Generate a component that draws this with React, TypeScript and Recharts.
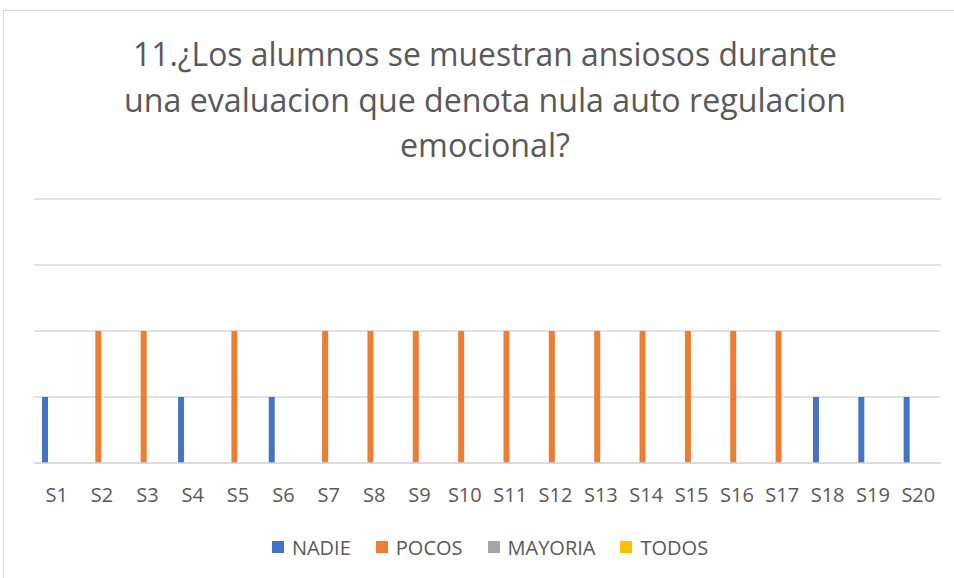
import React from 'react';
import {
  BarChart,
  Bar,
  XAxis,
  YAxis,
  CartesianGrid,
  Legend,
} from 'recharts';

const categories = [
  'S1', 'S2', 'S3', 'S4', 'S5', 'S6', 'S7', 'S8', 'S9', 'S10',
  'S11', 'S12', 'S13', 'S14', 'S15', 'S16', 'S17', 'S18', 'S19', 'S20',
];

const nadie = [1, 0, 0, 1, 0, 1, 0, 0, 0, 0, 0, 0, 0, 0, 0, 0, 0, 1, 1, 1];
const pocos = [0, 2, 2, 0, 2, 0, 2, 2, 2, 2, 2, 2, 2, 2, 2, 2, 2, 0, 0, 0];
const mayoria = [0, 0, 0, 0, 0, 0, 0, 0, 0, 0, 0, 0, 0, 0, 0, 0, 0, 0, 0, 0];
const todos = [0, 0, 0, 0, 0, 0, 0, 0, 0, 0, 0, 0, 0, 0, 0, 0, 0, 0, 0, 0];

const yTicks = [0, 1, 2, 3, 4];

const titleLines = [
  '11.¿Los alumnos se muestran ansiosos durante',
  'una evaluacion que denota nula auto regulacion',
  'emocional?',
];

const series = [
  { key: 'NADIE', color: '#4472C4' },
  { key: 'POCOS', color: '#ED7D31' },
  { key: 'MAYORIA', color: '#A5A5A5' },
  { key: 'TODOS', color: '#FFC000' },
];

const data = categories.map((name, i) => ({
  name,
  NADIE: nadie[i],
  POCOS: pocos[i],
  MAYORIA: mayoria[i],
  TODOS: todos[i],
}));

const FONT = '"Open Sans", sans-serif';
const TEXT = '#595959';
const GRID = '#D9D9D9';

const titleWidths = [704, 722, 170];

function LegendBox() {
  return (
    <div
      style={{
        display: 'flex',
        justifyContent: 'center',
        alignItems: 'center',
        gap: 25,
        height: 30,
        fontFamily: FONT,
        fontSize: 20,
        color: TEXT,
        paddingLeft: 26,
      }}
    >
      {series.map((s) => (
        <div key={s.key} style={{ display: 'flex', alignItems: 'center' }}>
          <span style={{ width: 12, height: 12, background: s.color, marginRight: 8 }} />
          <span>{s.key}</span>
        </div>
      ))}
    </div>
  );
}

export default function App() {
  return (
    <div
      style={{
        position: 'absolute',
        left: 0,
        top: 0,
        width: 954,
        height: 578,
        overflow: 'hidden',
        background: '#fff',
      }}
    >
      <div
        style={{
          position: 'absolute',
          left: 3,
          top: 10,
          width: 1000,
          height: 1000,
          border: `1px solid ${GRID}`,
        }}
      />
      <svg
        width={954}
        height={180}
        style={{ position: 'absolute', left: 0, top: 0 }}
      >
        {titleLines.map((line, i) => (
          <text
            key={i}
            x={485}
            y={66 + i * 45.5}
            textAnchor="middle"
            fontFamily={FONT}
            fontSize={32}
            fill={TEXT}
            textLength={titleWidths[i]}
            lengthAdjust="spacingAndGlyphs"
          >
            {line}
          </text>
        ))}
      </svg>
      <div style={{ position: 'absolute', left: 0, top: 0 }}>
        <BarChart
          width={954}
          height={578}
          data={data}
          margin={{ top: 199, right: 13, left: 34, bottom: 45 }}
          barSize={6}
          barGap={2}
        >
          <CartesianGrid vertical={false} stroke={GRID} strokeWidth={1.3} />
          <XAxis
            dataKey="name"
            interval={0}
            tickLine={false}
            tickSize={0}
            tickMargin={25}
            height={40}
            axisLine={{ stroke: GRID, strokeWidth: 1.3 }}
            tick={{ fill: TEXT, fontSize: 20, fontFamily: FONT }}
          />
          <YAxis hide domain={[0, 4]} ticks={yTicks} />
          <Legend
            verticalAlign="bottom"
            content={() => <LegendBox />}
            wrapperStyle={{ bottom: 16, left: 0, width: 954 }}
          />
          {series.map((s) => (
            <Bar key={s.key} dataKey={s.key} fill={s.color} isAnimationActive={false} />
          ))}
        </BarChart>
      </div>
    </div>
  );
}
